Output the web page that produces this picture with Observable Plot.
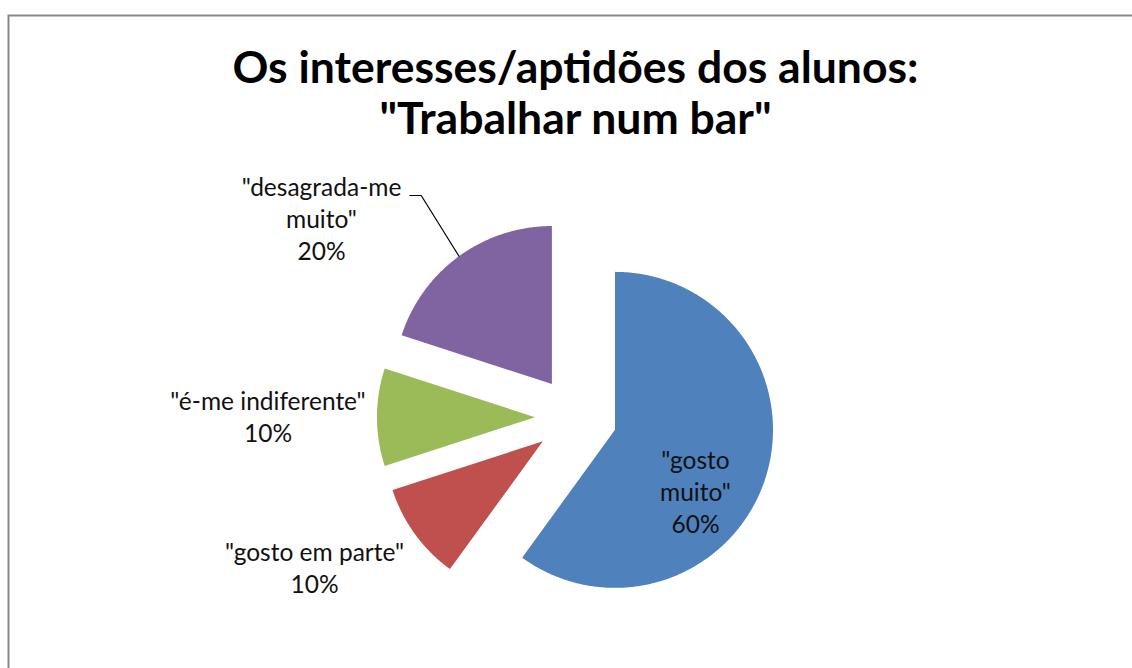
<!DOCTYPE html>
<html><head><meta charset="utf-8">
<script src="https://cdn.jsdelivr.net/npm/d3@7"></script>
<script src="https://cdn.jsdelivr.net/npm/@observablehq/plot@0.6"></script>
<style>body{margin:0;background:#fff;} #chart svg{display:block;}</style>
</head><body><div id="chart"></div>
<script>
// ---- data ----
const categories = ['"gosto muito"', '"gosto em parte"', '"é-me indiferente"', '"desagrada-me muito"'];
const values = [60, 10, 10, 20];
const labelLines = [['"gosto', 'muito"'], ['"gosto em parte"'], ['"é-me indiferente"'], ['"desagrada-me', 'muito"']];
const colors = ["#4F81BD", "#C0504D", "#9BBB59", "#8064A2"];
const titleLines = ["Os interesses/aptidões dos alunos:", '"Trabalhar num bar"'];

// ---- layout ----
const W = 1132, H = 668;
const cx = 575.5, cy = 416.7, R = 158, explode = 41;
const labelOffsets = [[119.5, 115.3], [-261.5, 175.3], [-308, 24.3], [-254.5, -157.7]];
const leaderSlice = 3;
const leaderStart = [88.3, -64], leaderElbow = [99.7, -64];
const font = "Lato, 'Open Sans', sans-serif";

const total = d3.sum(values);
const arcs = d3.pie().sort(null).value(d => d)(values);

const polys = [];
const labels = [];
arcs.forEach((a, i) => {
  const mid = (a.startAngle + a.endAngle) / 2;
  const ox = cx + explode * Math.sin(mid), oy = cy - explode * Math.cos(mid);
  polys.push({key: categories[i], color: colors[i], x: ox, y: oy});
  const steps = Math.max(2, Math.ceil((a.endAngle - a.startAngle) / (Math.PI / 360)));
  for (let k = 0; k <= steps; k++) {
    const t = a.startAngle + (a.endAngle - a.startAngle) * k / steps;
    polys.push({key: categories[i], color: colors[i], x: ox + R * Math.sin(t), y: oy - R * Math.cos(t)});
  }
  polys.push({key: categories[i], color: colors[i], x: ox, y: oy});
  labels.push({
    text: labelLines[i].join("\n") + "\n" + Math.round(values[i] / total * 100) + "%",
    x: cx + labelOffsets[i][0], y: cy + labelOffsets[i][1]
  });
});

const la = arcs[leaderSlice], lmid = (la.startAngle + la.endAngle) / 2;
const lox = cx + explode * Math.sin(lmid), loy = cy - explode * Math.cos(lmid);
const lbl = labels[leaderSlice];
const leader = [
  {x: lbl.x + leaderStart[0], y: lbl.y + leaderStart[1]},
  {x: lbl.x + leaderElbow[0], y: lbl.y + leaderElbow[1]},
  {x: lox + R * Math.sin(lmid), y: loy - R * Math.cos(lmid)}
];

const chart = Plot.plot({
  width: W, height: H, margin: 0,
  x: {domain: [0, W], range: [0, W], axis: null},
  y: {domain: [0, H], range: [0, H], axis: null},
  color: {type: "identity"},
  style: {fontFamily: font, background: "#fff"},
  marks: [
    Plot.frame({stroke: "#878787", strokeWidth: 2, insetLeft: 8, insetTop: 15, insetRight: -30, insetBottom: -30}),
    Plot.line(polys, {x: "x", y: "y", z: "key", fill: "color", stroke: "none", curve: "linear"}),
    Plot.line(leader, {x: "x", y: "y", stroke: "#000", strokeWidth: 1.2}),
    Plot.text(labels, {x: "x", y: "y", text: "text", fontSize: 24.5, lineHeight: 32 / 24.5, lineAnchor: "bottom", textAnchor: "middle", fill: "#111"}),
    Plot.text([titleLines.join("\n")], {frameAnchor: "top", dx: 9, dy: 133, text: d => d, fontSize: 44.5, fontWeight: "bold", lineHeight: 51 / 44.5, lineAnchor: "bottom", fill: "#000"})
  ]
});
document.getElementById("chart").append(chart);
</script>
</body></html>
